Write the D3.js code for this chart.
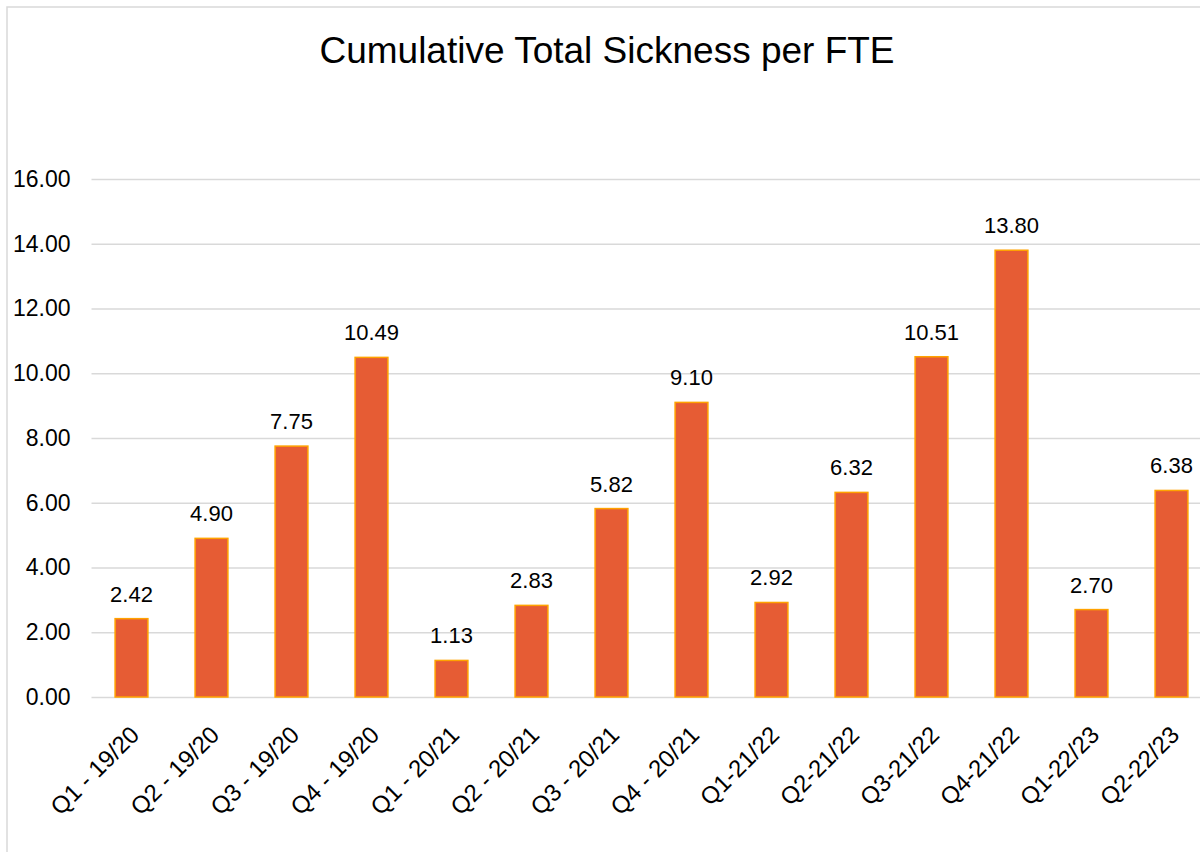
<!DOCTYPE html>
<html>
<head>
<meta charset="utf-8">
<script src="https://cdn.jsdelivr.net/npm/d3@7"></script>
<style>
  body { margin: 0; background: #fff; }
  svg { display: block; font-family: "Liberation Sans", Arial, sans-serif; }
</style>
</head>
<body>
<svg class="chart" width="1200" height="852"></svg>
<script>
// chart data
const categories = ["Q1 - 19/20", "Q2 - 19/20", "Q3 - 19/20", "Q4 - 19/20",
  "Q1 - 20/21", "Q2 - 20/21", "Q3 - 20/21", "Q4 - 20/21",
  "Q1-21/22", "Q2-21/22", "Q3-21/22", "Q4-21/22", "Q1-22/23", "Q2-22/23"]
const values = [2.42, 4.90, 7.75, 10.49, 1.13, 2.83, 5.82, 9.10, 2.92, 6.32, 10.51, 13.80, 2.70, 6.38]
const yTicks = [0, 2, 4, 6, 8, 10, 12, 14, 16]
const title = "Cumulative Total Sickness per FTE"

// plot area
const plotLeft = 91.5, plotRight = 1211.5, plotTop = 179, plotBottom = 697

const svg = d3.select(".chart")

// outer chart border (runs off the right/bottom edge)
svg.append("rect")
  .attr("x", 7).attr("y", 7)
  .attr("width", 1300).attr("height", 1000)
  .attr("fill", "none")
  .attr("stroke", "#d9d9d9")
  .attr("stroke-width", 1.5)

svg.append("text")
  .attr("x", 607).attr("y", 63)
  .attr("text-anchor", "middle")
  .style("font-size", "37px")
  .attr("fill", "#000")
  .text(title)

const x = d3.scaleBand()
  .domain(categories)
  .range([plotLeft, plotRight])
  .paddingInner(0.59)
  .paddingOuter(0.295)

const y = d3.scaleLinear()
  .domain([0, 16])
  .range([plotBottom, plotTop])

// gridlines + y labels
const yAxis = svg.append("g")
  .attr("transform", "translate(" + plotLeft + ",0)")
  .call(d3.axisLeft(y).tickValues(yTicks).tickFormat(d3.format(".2f"))
    .tickSize(-(plotRight - plotLeft)).tickPadding(21))
yAxis.select(".domain").remove()
yAxis.selectAll("line").attr("stroke", "#d9d9d9").attr("stroke-width", 1.5)
yAxis.selectAll("text").style("font-size", "23px").attr("fill", "#000")

// bars
svg.append("g")
  .selectAll("rect")
  .data(values)
  .enter()
  .append("rect")
  .attr("x", (d, i) => x(categories[i]))
  .attr("y", d => y(d))
  .attr("width", x.bandwidth())
  .attr("height", d => y(0) - y(d))
  .attr("fill", "#E65C34")
  .attr("stroke", "#FFA200")
  .attr("stroke-width", 1.5)

// value labels
svg.append("g")
  .selectAll("text")
  .data(values)
  .enter()
  .append("text")
  .attr("x", (d, i) => x(categories[i]) + x.bandwidth() / 2)
  .attr("y", d => y(d) - 17)
  .attr("text-anchor", "middle")
  .style("font-size", "22px")
  .attr("fill", "#000")
  .text(d => d3.format(".2f")(d))

// category labels, rotated
svg.append("g")
  .selectAll("text")
  .data(categories)
  .enter()
  .append("text")
  .attr("transform", d => "translate(" + (x(d) + x.bandwidth() / 2 - 3) + "," + 724 + ") rotate(-45)")
  .attr("text-anchor", "end")
  .attr("dy", "0.72em")
  .style("font-size", "24px")
  .attr("fill", "#000")
  .text(d => d)
</script>
</body>
</html>
